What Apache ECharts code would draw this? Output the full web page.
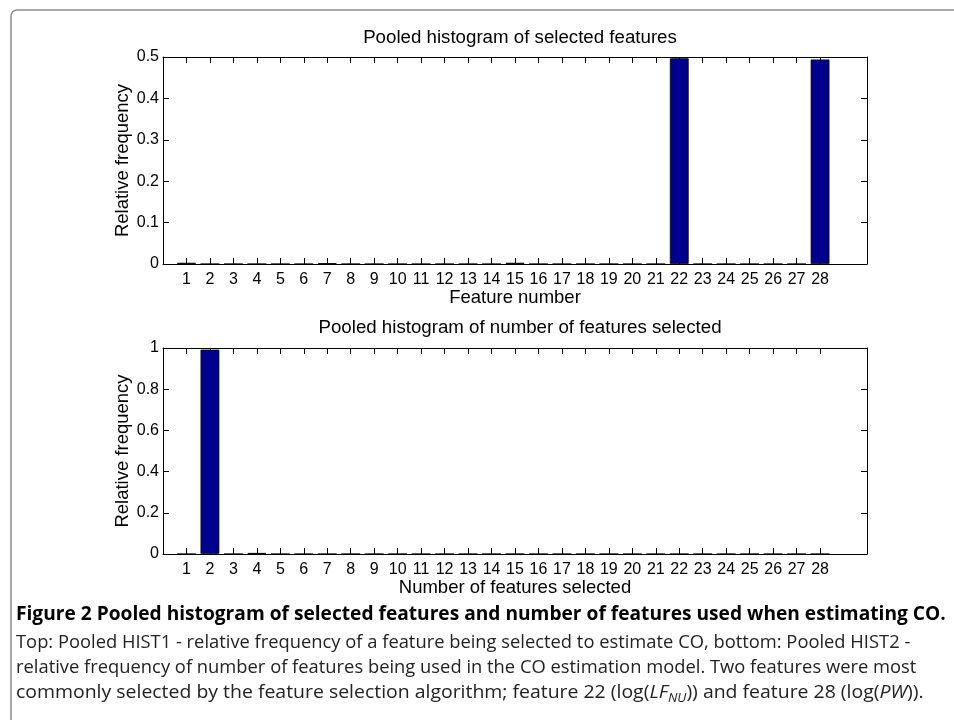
<!DOCTYPE html>
<html><head><meta charset="utf-8">
<script src="https://cdn.jsdelivr.net/npm/echarts@6/dist/echarts.min.js"></script>
<style>html,body{margin:0;padding:0;background:#fff}#c{width:954px;height:720px}</style>
</head><body><div id="c"></div>
<script>
// ---- data ----
const axisCategories = ['0','1','2','3','4','5','6','7','8','9','10','11','12','13','14','15','16','17','18','19','20','21','22','23','24','25','26','27','28','29','30'];
const tickLabels = ['1','2','3','4','5','6','7','8','9','10','11','12','13','14','15','16','17','18','19','20','21','22','23','24','25','26','27','28'];
// top: relative frequency of each feature number 1..28
const featureFreq = [0.003,0,0,0,0,0,0.002,0,0,0,0,0,0,0,0.003,0,0,0,0,0,0,0.497,0,0,0,0,0,0.494];
// bottom: relative frequency of number of features selected 1..28
const countFreq = [0,0.992,0,0.005,0,0,0,0,0,0,0,0,0,0,0,0,0,0,0,0,0,0,0,0,0,0,0,0];
const topTitle = 'Pooled histogram of selected features';
const bottomTitle = 'Pooled histogram of number of features selected';
const topXName = 'Feature number';
const bottomXName = 'Number of features selected';
const yName = 'Relative frequency';

const FONT = 'Liberation Sans';
const showIdx = (i) => i >= 1 && i <= 28;
function xAxes(gi, nameGap){
  const base = {type:'category', data:axisCategories, gridIndex:gi, boundaryGap:false,
    axisLine:{show:true,onZero:false,lineStyle:{color:'#000',width:1}},
    axisTick:{show:true,inside:true,length:6,interval:(i)=>showIdx(i),lineStyle:{color:'#000'}},
    splitLine:{show:false}};
  return [
    Object.assign({}, base, {position:'bottom',
      name: gi===0?topXName:bottomXName, nameLocation:'middle', nameGap:nameGap,
      nameTextStyle:{fontFamily:FONT,fontSize:18.5,color:'#000'},
      axisLabel:{show:true,interval:(i)=>showIdx(i),margin:8,fontFamily:FONT,fontSize:16,color:'#000'}}),
    Object.assign({}, base, {position:'top', axisLabel:{show:false}})
  ];
}
function yAxes(gi, max, interval){
  const base = {type:'value', gridIndex:gi, min:0, max:max, interval:interval,
    axisLine:{show:true,onZero:false,lineStyle:{color:'#000',width:1}},
    axisTick:{show:true,inside:true,length:6,lineStyle:{color:'#000'}},
    splitLine:{show:false}};
  return [
    Object.assign({}, base, {position:'left', name:yName, nameLocation:'middle', nameGap:31, nameMoveOverlap:false,
      nameTextStyle:{fontFamily:FONT,fontSize:18.5,color:'#000'},
      axisLabel:{show:true,margin:4,fontFamily:FONT,fontSize:16,color:'#000'}}),
    Object.assign({}, base, {position:'right', axisLabel:{show:false}})
  ];
}
const toData = (arr) => arr.map((v,i)=>[tickLabels[i], v]);
const barStyle = {color:'#00008f', borderColor:'#000', borderWidth:0.8};

const captionBold = 'Figure 2 Pooled histogram of selected features and number of features used when estimating CO.';
const caption2 = 'Top: Pooled HIST1 - relative frequency of a feature being selected to estimate CO, bottom: Pooled HIST2 -';
const caption3 = 'relative frequency of number of features being used in the CO estimation model. Two features were most';

const chart = echarts.init(document.getElementById('c'), null, {renderer:'canvas'});
chart.setOption({
  animation:false,
  backgroundColor:'#fff',
  title:[
    {text:topTitle, left:515, textAlign:'center', top:23, textStyle:{fontFamily:FONT,fontSize:18.7,fontWeight:'normal',color:'#000'}},
    {text:bottomTitle, left:515, textAlign:'center', top:313, textStyle:{fontFamily:FONT,fontSize:18.7,fontWeight:'normal',color:'#000'}}
  ],
  grid:[
    {left:163, top:57, width:704, height:207, show:false},
    {left:163, top:348, width:704, height:206, show:false}
  ],
  xAxis:[...xAxes(0,23), ...xAxes(1,21)],
  yAxis:[...yAxes(0,0.5,0.1), ...yAxes(1,1,0.2)],
  series:[
    {type:'bar', xAxisIndex:0, yAxisIndex:0, data:toData(featureFreq), barWidth:'80%', itemStyle:barStyle},
    {type:'bar', xAxisIndex:2, yAxisIndex:2, data:toData(countFreq), barWidth:'80%', itemStyle:barStyle}
  ],
  graphic:[
    {type:'rect', shape:{x:11, y:10, width:1000, height:800, r:6}, style:{fill:'none', stroke:'#8c8c8c', lineWidth:1.5}, silent:true},
    {type:'text', x:16, y:615, scaleX:1.008, style:{text:captionBold, fontFamily:'Open Sans', fontWeight:'bold', fontSize:19, fill:'#000', verticalAlign:'middle'}},
    {type:'text', x:16, y:643, scaleX:0.965, style:{text:caption2, fontFamily:'Open Sans', fontSize:19, fill:'#222', verticalAlign:'middle'}},
    {type:'text', x:16, y:668, scaleX:0.966, style:{text:caption3, fontFamily:'Open Sans', fontSize:19, fill:'#222', verticalAlign:'middle'}},
    {type:'text', x:16, y:693, scaleX:1.023, style:{
      text:'commonly selected by the feature selection algorithm; feature 22 (log({i|LF}{sub|NU})) and feature 28 (log({i|PW})).',
      fontFamily:'Open Sans', fontSize:19, fill:'#222', verticalAlign:'middle',
      rich:{
        i:{fontFamily:'Open Sans', fontSize:19, fontStyle:'italic', fill:'#222'},
        sub:{fontFamily:'Open Sans', fontSize:13, fontStyle:'italic', fill:'#222', padding:[11,0,0,0]}
      }}}
  ]
});
</script></body></html>
